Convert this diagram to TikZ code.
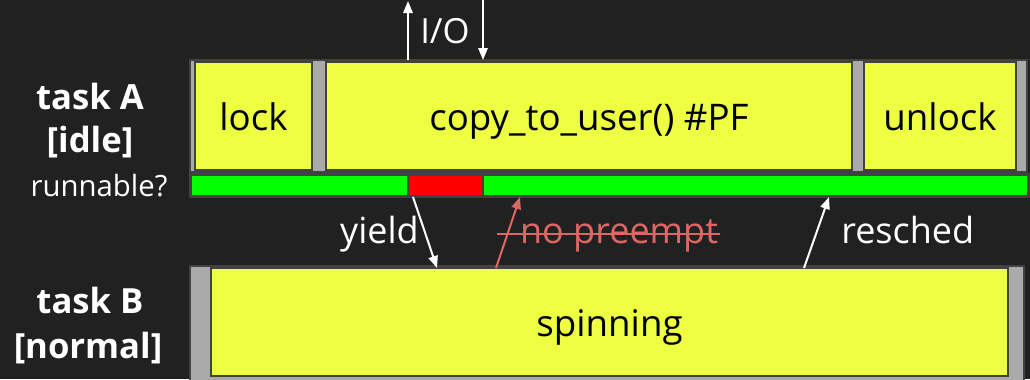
\documentclass[tikz,border=0pt]{standalone}
\usepackage{fontspec}
\setmainfont{Open Sans}
\usetikzlibrary{arrows.meta}
\definecolor{bg}{HTML}{212121}
\definecolor{ylw}{HTML}{EEFF41}
\definecolor{gry}{HTML}{AAAAAA}
\definecolor{edgec}{HTML}{424242}
\definecolor{grn}{HTML}{00FF00}
\definecolor{rd}{HTML}{FF0000}
\definecolor{pinkc}{HTML}{E06666}
\begin{document}
\begin{tikzpicture}[x=0.75pt,y=-0.75pt,
  frame/.style={draw=edgec, line width=1.5pt, fill=gry},
  ybox/.style={draw=edgec, line width=1.5pt, fill=ylw, inner sep=0pt, font=\fontsize{27.5}{31}\selectfont, text=black, text height=21pt, text depth=0pt},
  lbl/.style={text=white, font=\fontsize{27}{31}\selectfont, inner sep=0pt, anchor=base},
  tlbl/.style={text=white, font=\bfseries\fontsize{26}{29}\selectfont, inner sep=0pt, anchor=base},
  arr/.style={draw=white, line width=1.5pt, -{Triangle[length=9pt,width=7pt]}},
]
\fill[bg] (0,0) rectangle (1030,379);
\useasboundingbox (0,0) rectangle (1030,379);
% task A row
\draw[frame] (190,60) rectangle (1027,172);
\node[ybox, minimum width=87.75pt, minimum height=81pt] (lock) at (253.5,116) {lock};
\node[ybox, minimum width=394.5pt, minimum height=81pt] (copy) at (589,116) {copy\_to\_user() \#PF};
\node[ybox, minimum width=114pt, minimum height=81pt] (unlock) at (940,116) {unlock};
% runnable bar
\draw[draw=edgec, line width=1.5pt, fill=edgec] (190,174) rectangle (1029,197);
\fill[grn] (192,176) rectangle (407,195);
\fill[rd] (409,176) rectangle (482,195);
\fill[grn] (484,176) rectangle (1027,195);
% task B row
\draw[frame] (190,266) rectangle (1024,385);
\node[ybox, minimum width=597.75pt, minimum height=81pt] (spin) at (609.5,322) {spinning};
% labels
\node[tlbl] (ta) at (90,109) {task A};
\node[tlbl] (ti) at (90,152) {[idle]};
\node[lbl, font=\fontsize{22}{26}\selectfont] (run) at (99,196) {runnable?};
\node[tlbl] (tb) at (90,313) {task B};
\node[tlbl] (tn) at (88,358) {[normal]};
% coordinates
\coordinate (ioup0) at (408,60);
\coordinate (ioup1) at (408,1);
\coordinate (iodn0) at (483,0);
\coordinate (iodn1) at (483,60);
\coordinate (ys) at (413,197);
\coordinate (ye) at (437,268);
\coordinate (ns) at (496,268);
\coordinate (ne) at (520,197);
\coordinate (rs) at (804,268);
\coordinate (re) at (829,197);
\draw[arr] (ioup0) -- (ioup1);
\draw[arr] (iodn0) -- (iodn1);
\node[lbl, font=\fontsize{26}{30}\selectfont] (io) at (445,43) {I/O};
\draw[arr] (ys) -- (ye);
\node[lbl, anchor=base east] (yl) at (419,243) {yield};
\draw[arr, draw=pinkc, -{Triangle[length=9pt,width=7pt]}] (ns) -- (ne);
\node[lbl, text=pinkc] (np) at (619,243) {no preempt};
\coordinate (st0) at (497,234);
\coordinate (st1) at (720,234);
\draw[pinkc, line width=2pt] (st0) -- (st1);
\draw[arr] (rs) -- (re);
\node[lbl, anchor=base west] (rl) at (841,243) {resched};
\end{tikzpicture}
\end{document}
